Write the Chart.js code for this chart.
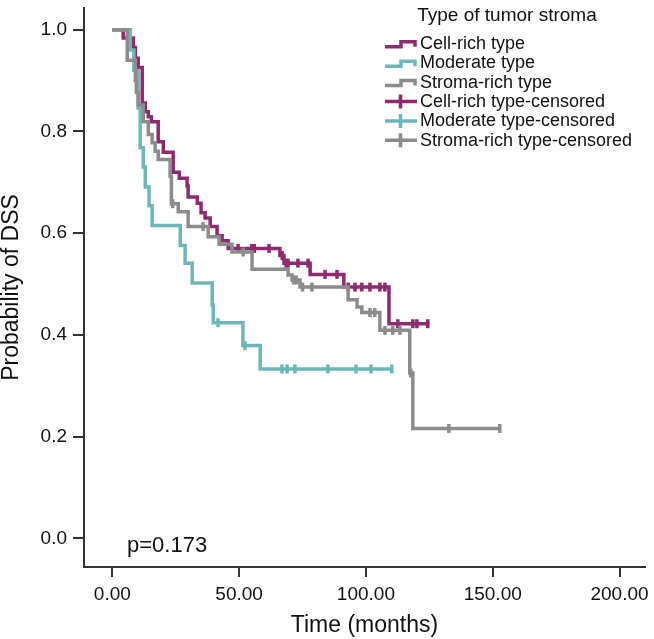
<!DOCTYPE html>
<html><head><meta charset="utf-8">
<style>html,body{margin:0;padding:0;background:#fff;}canvas{display:block;}</style>
<script src="https://cdn.jsdelivr.net/npm/chart.js@4.4.1/dist/chart.umd.min.js"></script>
</head><body>
<canvas id="c" width="654" height="639"></canvas>
<script>
// ---- data ----
const seriesNames = ['Cell-rich type', 'Moderate type', 'Stroma-rich type'];
const legendTitle = 'Type of tumor stroma';
const pText = 'p=0.173';
const xTicks = [0, 50, 100, 150, 200];
const yTicks = [0, 0.2, 0.4, 0.6, 0.8, 1.0];

const cellTimes = [0, 4.3, 8.3, 9.1, 10.2, 11.8, 13.0, 14.2, 15.4, 18.1, 20.1, 24.0, 26.4, 29.5, 29.9, 33.5, 35.0, 36.6, 38.6, 41.3, 43.3, 45.7, 66.1, 67.7, 78.0, 91.3, 109.1, 125.0];
const cellSurv  = [1, 0.984, 0.965, 0.944, 0.926, 0.856, 0.839, 0.829, 0.819, 0.780, 0.759, 0.720, 0.708, 0.693, 0.671, 0.659, 0.640, 0.630, 0.613, 0.595, 0.585, 0.570, 0.556, 0.541, 0.519, 0.494, 0.422, 0.422];
const cellCens  = [49.6, 55.0, 56.0, 61.8, 67.0, 68.5, 69.3, 73.2, 77.2, 83.9, 88.6, 93.0, 95.7, 98.4, 101.6, 105.5, 107.5, 112.6, 118.5, 120.1, 124.4];

const modTimes = [0, 7.1, 8.5, 10.2, 11.0, 12.2, 13.0, 14.5, 15.7, 26.8, 28.7, 31.5, 39.4, 39.8, 51.5, 58.3, 110.2];
const modSurv  = [1, 0.96, 0.92, 0.846, 0.768, 0.730, 0.691, 0.654, 0.615, 0.576, 0.541, 0.502, 0.459, 0.424, 0.379, 0.333, 0.333];
const modCens  = [41.7, 52.3, 66.9, 68.9, 72.0, 85.0, 96.1, 102.0, 110.2];

const strTimes = [0, 5.9, 9.1, 9.5, 10.2, 12.2, 14.2, 15.7, 16.9, 18.1, 22.8, 23.3, 26.0, 29.9, 37.8, 42.1, 47.2, 55.1, 69.3, 70.9, 74.0, 93.0, 96.5, 98.4, 105.5, 117.3, 118.5, 152.8];
const strSurv  = [1, 0.940, 0.90, 0.877, 0.852, 0.819, 0.794, 0.778, 0.761, 0.745, 0.712, 0.658, 0.642, 0.613, 0.593, 0.578, 0.563, 0.529, 0.518, 0.508, 0.494, 0.469, 0.455, 0.444, 0.409, 0.325, 0.216, 0.216];
const strCens  = [23.8, 35.8, 51.6, 71.5, 72.5, 75.0, 78.7, 101.6, 103.5, 107.5, 110.6, 113.4, 117.7, 132.7, 152.8];

// ---- styles ----
const colors = ['#8E2B6E', '#6DB7B8', '#8C8C8C'];
const FONT = "'Liberation Sans', Arial, sans-serif";
const axisColor = '#333333';
const textColor = '#111111';

function stepAt(times, surv, t) {
  let s = surv[0];
  for (let i = 0; i < times.length; i++) if (times[i] <= t) s = surv[i];
  return s;
}
function curve(times, surv) { return times.map((t, i) => ({x: t, y: surv[i]})); }
function cens(times, surv, c) { return c.map(t => ({x: t, y: stepAt(times, surv, t)})); }

const groups = [
  {times: cellTimes, surv: cellSurv, cens: cellCens},
  {times: modTimes, surv: modSurv, cens: modCens},
  {times: strTimes, surv: strSurv, cens: strCens}
];
const drawOrder = [4, 2, 0]; // lower = on top
const datasets = [];
groups.forEach((g, i) => {
  datasets.push({
    type: 'line', label: seriesNames[i], data: curve(g.times, g.surv),
    borderColor: colors[i], borderWidth: 3.5, stepped: true, pointRadius: 0, pointHoverRadius: 0,
    fill: false, borderCapStyle: 'butt', borderJoinStyle: 'miter', order: drawOrder[i] + 1
  });
  datasets.push({
    type: 'scatter', label: seriesNames[i] + '-censored', data: cens(g.times, g.surv, g.cens),
    showLine: false, pointStyle: 'line', pointRotation: 90, pointRadius: 4.5, pointHoverRadius: 4.5,
    pointBorderWidth: 3.5, pointBorderColor: colors[i], pointBackgroundColor: colors[i],
    borderColor: colors[i], backgroundColor: colors[i], order: drawOrder[i]
  });
});

const overlayPlugin = {
  id: 'overlay',
  afterDraw(chart) {
    const ctx = chart.ctx;
    const xs = chart.scales.x, ys = chart.scales.y;
    ctx.save();
    // p value
    ctx.fillStyle = textColor;
    ctx.font = '22px ' + FONT;
    ctx.textAlign = 'left';
    ctx.textBaseline = 'middle';
    ctx.fillText(pText, xs.getPixelForValue(5.8), ys.getPixelForValue(-0.0156));
    // legend
    ctx.font = '19px ' + FONT;
    ctx.textAlign = 'center';
    ctx.fillText(legendTitle, 507, 16);
    ctx.font = '18px ' + FONT;
    ctx.textAlign = 'left';
    const rows = [];
    seriesNames.forEach((n, i) => rows.push({text: n, color: colors[i], kind: 'step'}));
    seriesNames.forEach((n, i) => rows.push({text: n + '-censored', color: colors[i], kind: 'cross'}));
    rows.forEach((r, k) => {
      const y = 43.3 + k * 19.4;
      ctx.strokeStyle = r.color;
      ctx.lineWidth = 3.5;
      ctx.lineJoin = 'miter';
      ctx.lineCap = 'butt';
      ctx.beginPath();
      if (r.kind === 'step') {
        ctx.moveTo(385, y + 3.5);
        ctx.lineTo(401, y + 3.5);
        ctx.lineTo(401, y - 1.5);
        ctx.lineTo(415, y - 1.5);
        ctx.lineTo(415, y + 3.5);
      } else {
        ctx.moveTo(385, y);
        ctx.lineTo(417, y);
        ctx.moveTo(400.5, y - 7);
        ctx.lineTo(400.5, y + 7);
      }
      ctx.stroke();
      ctx.fillStyle = textColor;
      ctx.fillText(r.text, 420, y + 0.5);
    });
    ctx.restore();
  }
};

new Chart(document.getElementById('c'), {
  data: {datasets},
  options: {
    responsive: false,
    animation: false,
    events: [],
    layout: {padding: {top: 2, right: 9, left: 0, bottom: 0}},
    plugins: {legend: {display: false}, tooltip: {enabled: false}},
    scales: {
      x: {
        type: 'linear', position: 'bottom', min: -11.16, max: 210.05,
        afterBuildTicks: s => { s.ticks = xTicks.map(v => ({value: v})); },
        afterFit: s => { s.height = 72; s.paddingLeft = 0; s.paddingRight = 0; },
        ticks: {callback: v => Number(v).toFixed(2), font: {family: FONT, size: 19}, color: textColor, padding: 6, maxRotation: 0, autoSkip: false},
        grid: {display: true, drawOnChartArea: false, drawTicks: true, tickLength: 10, tickWidth: 2, tickColor: axisColor, color: axisColor, lineWidth: 2},
        border: {display: true, color: axisColor, width: 2},
        title: {display: true, text: 'Time (months)', font: {family: FONT, size: 23, lineHeight: 1}, color: textColor, padding: {top: 0, bottom: 1.5}}
      },
      y: {
        type: 'linear', position: 'left', min: -0.0564, max: 1.0428,
        afterBuildTicks: s => { s.ticks = yTicks.map(v => ({value: v})); },
        afterFit: s => { s.width = 84; s.paddingTop = 0; s.paddingBottom = 0; },
        ticks: {callback: v => Number(v).toFixed(1), font: {family: FONT, size: 19}, color: textColor, padding: 6, autoSkip: false},
        grid: {display: true, drawOnChartArea: false, drawTicks: true, tickLength: 11, tickWidth: 2, tickColor: axisColor, color: axisColor, lineWidth: 2},
        border: {display: true, color: axisColor, width: 2},
        title: {display: true, text: 'Probability of DSS', font: {family: FONT, size: 23, lineHeight: 1}, color: textColor, padding: {top: 0.5, bottom: 0}}
      }
    }
  },
  plugins: [overlayPlugin]
});
</script>
</body></html>
